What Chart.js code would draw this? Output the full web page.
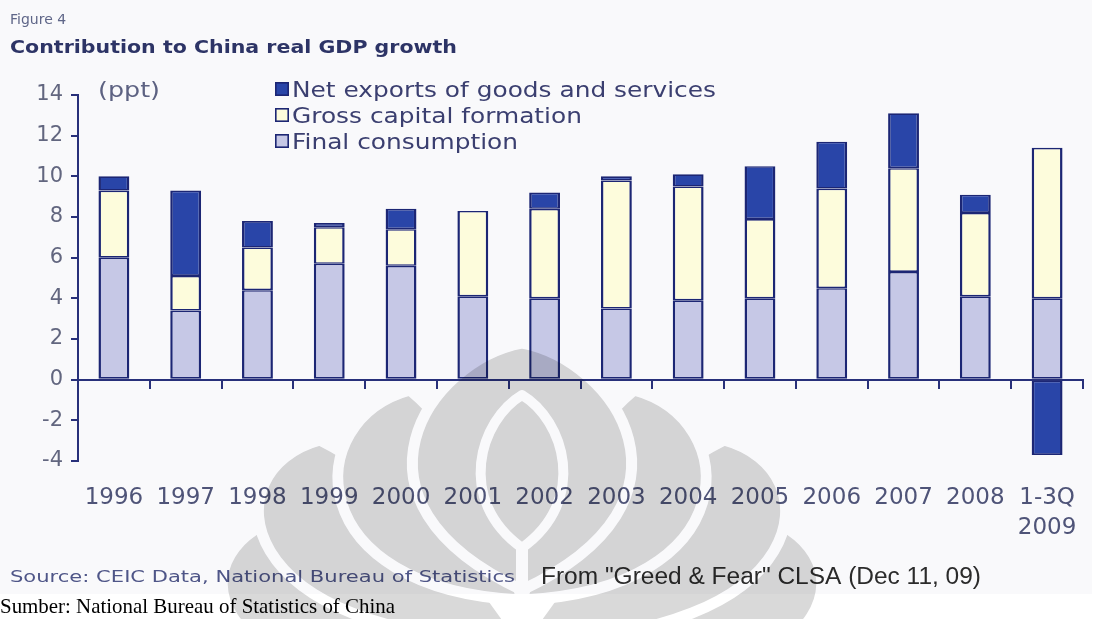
<!DOCTYPE html>
<html>
<head>
<meta charset="utf-8">
<script src="https://cdn.jsdelivr.net/npm/chart.js@4.4.1/dist/chart.umd.min.js"></script>
<style>
  html, body { margin: 0; padding: 0; background: #ffffff; }
  #wrap { width: 1094px; height: 619px; position: relative; }
  canvas { display: block; }
</style>
</head>
<body>
<div id="wrap"><canvas id="chart" width="1094" height="619"></canvas></div>
<script>
// Contribution to China real GDP growth, percentage points
const categories = ['1996', '1997', '1998', '1999', '2000', '2001', '2002', '2003', '2004', '2005', '2006', '2007', '2008', ['1-3Q', '2009']];
const finalConsumption = [6.0, 3.4, 4.4, 5.7, 5.6, 4.1, 4.0, 3.5, 3.9, 4.0, 4.5, 5.3, 4.1, 4.0];
const grossCapitalFormation = [3.3, 1.7, 2.1, 1.8, 1.8, 4.2, 4.4, 6.3, 5.6, 3.9, 4.9, 5.1, 4.1, 7.4];
const netExports = [0.7, 4.2, 1.3, 0.2, 1.0, 0.0, 0.8, 0.2, 0.6, 2.6, 2.3, 2.7, 0.9, -3.7];
const yTicks = [-4, -2, 0, 2, 4, 6, 8, 10, 12, 14];

const seriesNames = ['Final consumption', 'Gross capital formation', 'Net exports of goods and services'];

const NAVY = '#1c2674';
const AXIS = '#28307a';
const COLORS = {
  consumption: '#c6c8e6',
  capital: '#fdfcdc',
  exports: '#2945a8'
};
const SANS = '"DejaVu Sans", Verdana, sans-serif';

// Background of the figure panel
const backgroundPlugin = {
  id: 'panelBackground',
  beforeDraw(chart) {
    const ctx = chart.ctx;
    ctx.save();
    ctx.fillStyle = '#ffffff';
    ctx.fillRect(0, 0, chart.width, chart.height);
    ctx.fillStyle = '#f9f9fb';
    ctx.fillRect(0, 0, 1092, 594);
    ctx.restore();
  }
};

// Draws text squeezed or widened horizontally to a given width
function stretchedText(ctx, text, x, y, font, width) {
  ctx.font = font;
  const natural = ctx.measureText(text).width;
  ctx.save();
  ctx.translate(x, y);
  ctx.scale(width / natural, 1);
  ctx.fillText(text, 0, 0);
  ctx.restore();
  return width / natural;
}

// Titles, unit label, legend and source notes
const textPlugin = {
  id: 'annotations',
  afterDraw(chart) {
    const ctx = chart.ctx;
    ctx.save();
    ctx.textBaseline = 'alphabetic';
    ctx.textAlign = 'left';

    ctx.fillStyle = '#5f6688';
    ctx.font = '14px ' + SANS;
    ctx.fillText('Figure 4', 10, 24);

    ctx.fillStyle = '#2d3466';
    stretchedText(ctx, 'Contribution to China real GDP growth', 10, 53, 'bold 17px ' + SANS, 447);

    ctx.fillStyle = '#5d6282';
    stretchedText(ctx, '(ppt)', 98, 97, '21px ' + SANS, 62);

    // legend, top to bottom in reverse stacking order
    const order = [2, 1, 0];
    ctx.font = '21px ' + SANS;
    const k = 424 / ctx.measureText(chart.data.datasets[2].label).width;
    order.forEach((di, row) => {
      const ds = chart.data.datasets[di];
      const cy = 89 + row * 26;
      ctx.fillStyle = ds.backgroundColor;
      ctx.fillRect(275, cy - 7, 14, 14);
      ctx.strokeStyle = NAVY;
      ctx.lineWidth = 1.6;
      ctx.strokeRect(275.8, cy - 6.2, 12.4, 12.4);
      ctx.fillStyle = '#3b3f70';
      ctx.font = '21px ' + SANS;
      const w = ctx.measureText(ds.label).width * k;
      stretchedText(ctx, ds.label, 292, cy + 8, '21px ' + SANS, w);
    });

    ctx.fillStyle = '#4f5688';
    stretchedText(ctx, 'Source: CEIC Data, National Bureau of Statistics', 10, 582, '16.5px ' + SANS, 505);

    ctx.fillStyle = '#2b2b2b';
    stretchedText(ctx, 'From "Greed & Fear" CLSA (Dec 11, 09)', 541, 584,
      '23px "Liberation Sans Narrow", "Arial Narrow", sans-serif', 440);

    ctx.fillStyle = '#000000';
    stretchedText(ctx, 'Sumber: National Bureau of Statistics of China', 0, 613,
      '21px "Liberation Serif", "Times New Roman", serif', 395);
    ctx.restore();
  }
};

// Faint emblem laid over the lower part of the figure
function sideLobe(o, s, b, c1, c2, t, i1, i2) {
  // s = +1 for left side, -1 for mirrored right side about x = 522
  const X = x => 522 - s * (522 - x);
  o.beginPath();
  o.moveTo(X(b[0]), b[1]);
  o.bezierCurveTo(X(c1[0]), c1[1], X(c2[0]), c2[1], X(t[0]), t[1]);
  o.bezierCurveTo(X(i1[0]), i1[1], X(i2[0]), i2[1], X(b[0]), b[1]);
  o.closePath();
}

const emblemPlugin = {
  id: 'emblem',
  afterDraw(chart) {
    const off = document.createElement('canvas');
    off.width = chart.width;
    off.height = chart.height;
    const o = off.getContext('2d');
    o.fillStyle = '#ffffff';
    o.fillRect(0, 0, off.width, off.height);
    const gray = '#d9d9d9';
    o.lineJoin = 'round';
    o.lineCap = 'round';

    const paint = (w) => {
      o.fillStyle = gray;
      o.fill();
      o.strokeStyle = '#ffffff';
      o.lineWidth = w;
      o.stroke();
    };

    // side lobes, outermost first
    const lobes = [
      [[522, 700], [170, 700], [180, 540], [290, 515], [360, 560], [440, 640]],
      [[522, 640], [230, 640], [210, 470], [320, 440], [400, 480], [470, 560]],
      [[522, 600], [300, 590], [300, 420], [410, 390], [470, 440], [500, 520]]
    ];
    lobes.forEach(l => {
      [1, -1].forEach(s => {
        sideLobe(o, s, l[0], l[1], l[2], l[3], l[4], l[5]);
        paint(11);
      });
    });

    // central dome
    o.beginPath();
    o.moveTo(522, 590);
    o.bezierCurveTo(330, 500, 430, 360, 522, 343);
    o.bezierCurveTo(614, 360, 714, 500, 522, 590);
    o.closePath();
    paint(11);

    // narrow leaf inside the dome
    o.beginPath();
    o.moveTo(522, 548);
    o.bezierCurveTo(455, 500, 480, 420, 522, 395);
    o.bezierCurveTo(564, 420, 589, 500, 522, 548);
    o.closePath();
    o.strokeStyle = '#ffffff';
    o.lineWidth = 10;
    o.stroke();

    o.beginPath();
    o.moveTo(522, 548);
    o.lineTo(522, 619);
    o.lineWidth = 12;
    o.stroke();

    const ctx = chart.ctx;
    ctx.save();
    ctx.globalCompositeOperation = 'multiply';
    ctx.drawImage(off, 0, 0);
    ctx.restore();
  }
};

const ctx = document.getElementById('chart').getContext('2d');
new Chart(ctx, {
  type: 'bar',
  data: {
    labels: categories,
    datasets: [
      { label: seriesNames[0], data: finalConsumption, backgroundColor: COLORS.consumption },
      { label: seriesNames[1], data: grossCapitalFormation, backgroundColor: COLORS.capital },
      { label: seriesNames[2], data: netExports, backgroundColor: COLORS.exports }
    ]
  },
  options: {
    responsive: false,
    animation: false,
    devicePixelRatio: 1,
    layout: { padding: { left: 0, right: 11, top: 95, bottom: 0 } },
    datasets: {
      bar: {
        barPercentage: 0.43,
        categoryPercentage: 1.0,
        borderColor: NAVY,
        borderWidth: { left: 2.5, right: 2.5, top: 1.6, bottom: 1.6 },
        borderSkipped: false
      }
    },
    plugins: {
      legend: { display: false },
      tooltip: { enabled: false },
      title: { display: false }
    },
    scales: {
      x: {
        stacked: true,
        offset: true,
        grid: { display: false },
        border: { display: false },
        ticks: {
          color: '#4f5478',
          font: { family: SANS, size: 23, lineHeight: 1.3 },
          padding: 14,
          maxRotation: 0,
          autoSkip: false
        },
        afterFit(scale) { scale.height = 158; }
      },
      xZero: {
        type: 'category',
        labels: categories,
        position: { y: 0 },
        offset: true,
        grid: { drawOnChartArea: false, offset: true, tickLength: 8, color: AXIS, lineWidth: 2 },
        border: { display: true, color: AXIS, width: 2 },
        ticks: { display: false }
      },
      y: {
        stacked: true,
        min: -4,
        max: 14,
        afterBuildTicks(scale) { scale.ticks = yTicks.map(v => ({ value: v })); },
        ticks: {
          color: '#62667f',
          font: { family: SANS, size: 21 },
          padding: 8
        },
        grid: { drawOnChartArea: false, tickLength: 7, color: AXIS, lineWidth: 2 },
        border: { display: true, color: AXIS, width: 2 },
        afterFit(scale) { scale.width = 78; }
      }
    }
  },
  plugins: [backgroundPlugin, textPlugin, emblemPlugin]
});
</script>
</body>
</html>
